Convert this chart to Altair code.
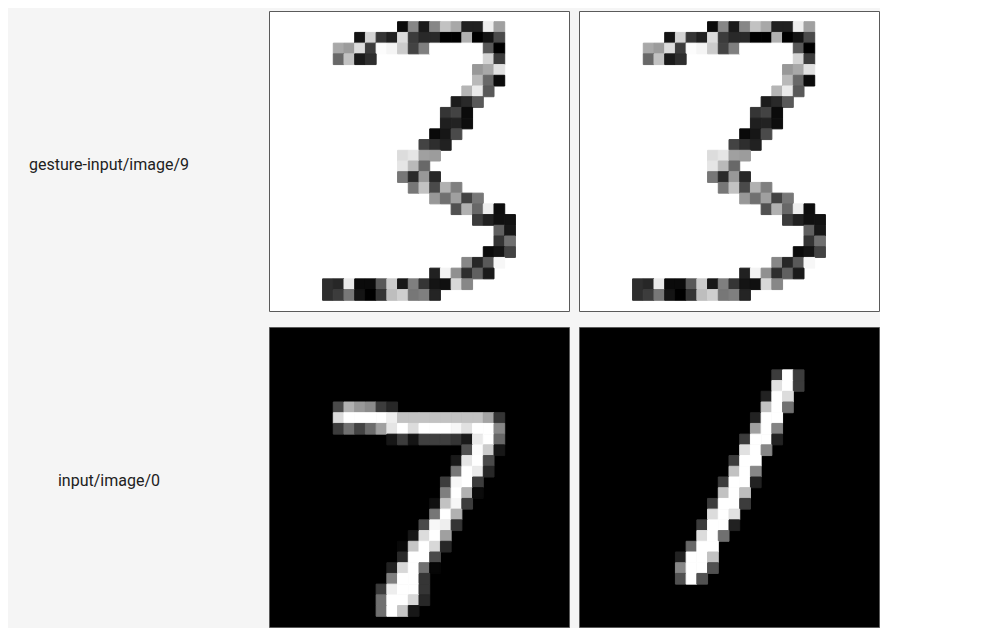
import altair as alt
import pandas as pd

# grey levels as shown on screen, one entry per image row: row -> (first column, values)
gesture_9 = {
    1: (12, [8, 144, 24, 144, 200, 176, 32, 32, 240, 168]),
    2: (8, [16, 216, 56, 32, 224, 64, 42, 42, 0, 0, 184, 0, 16, 80]),
    3: (6, [176, 164, 224, 64, 252, 246, 208, 72, 136, 255, 255, 255, 255, 255, 96, 0]),
    4: (6, [112, 200, 24, 48]),
    104: (20, [216, 64]),
    5: (19, [160, 176, 228]),
    6: (19, [192, 112, 8]),
    7: (18, [188, 236, 96]),
    8: (17, [26, 42, 96]),
    9: (16, [56, 72, 8]),
    10: (16, [30, 34, 10]),
    11: (15, [6, 18, 80]),
    12: (14, [72, 48, 32]),
    13: (12, [224, 232, 168, 164]),
    14: (12, [232, 192, 112]),
    15: (12, [128, 44, 160, 40]),
    16: (13, [128, 200, 80, 184, 136]),
    17: (15, [160, 120, 168, 72, 128]),
    18: (17, [88, 184, 112, 240, 10]),
    19: (19, [64, 32, 12, 14]),
    20: (21, [104, 20]),
    21: (21, [56, 120]),
    22: (20, [8, 16, 72]),
    23: (18, [144, 40, 96, 248]),
    24: (15, [32, 244, 152, 48, 104, 24]),
    25: (5, [48, 40, 236, 8, 8, 96, 208, 20, 136, 56, 16, 12, 220, 144]),
    26: (5, [48, 64, 128, 16, 0, 56, 196, 212, 128, 136, 36]),
}

input_7 = {
    7: (6, [80, 184, 160, 148, 64, 40]),
    8: (6, [224, 255, 255, 255, 255, 240, 200, 200, 200, 200, 200, 200, 200, 200, 172, 56]),
    9: (6, [64, 120, 72, 116, 168, 232, 255, 224, 255, 255, 255, 248, 228, 255, 255, 144]),
    10: (11, [18, 64, 16, 68, 68, 68, 56, 24, 236, 255, 112]),
    11: (18, [88, 252, 208, 20]),
    12: (17, [24, 232, 255, 80]),
    13: (17, [128, 255, 236, 40]),
    14: (16, [64, 248, 255, 64]),
    15: (16, [136, 255, 184, 8]),
    16: (15, [12, 200, 248, 64]),
    17: (15, [128, 255, 184]),
    18: (14, [80, 248, 240, 56]),
    19: (13, [20, 224, 255, 168]),
    20: (12, [6, 204, 255, 220, 40]),
    21: (12, [44, 255, 255, 80]),
    22: (11, [34, 220, 255, 120, 4]),
    23: (11, [136, 255, 255, 56]),
    24: (10, [64, 240, 255, 255, 56]),
    25: (10, [120, 255, 255, 220, 40]),
    26: (10, [120, 255, 204, 20]),
}

input_1 = {
    4: (18, [64, 255, 64]),
    5: (18, [228, 255, 64]),
    6: (17, [34, 255, 224]),
    7: (17, [200, 255, 120]),
    8: (16, [34, 255, 255]),
    9: (16, [168, 255, 140]),
    10: (15, [64, 255, 255, 34]),
    11: (15, [228, 255, 144]),
    12: (14, [64, 255, 255]),
    13: (14, [200, 255, 144]),
    14: (13, [64, 255, 255, 34]),
    15: (13, [200, 255, 196]),
    16: (12, [64, 255, 255, 64]),
    17: (12, [224, 255, 228]),
    18: (11, [64, 255, 255, 32]),
    19: (11, [224, 255, 120]),
    20: (10, [112, 255, 255]),
    21: (9, [34, 255, 255, 200]),
    22: (9, [144, 255, 255, 88]),
    23: (9, [88, 255, 88]),
}

labels = ['gesture-input/image/9', 'input/image/0']


def to_df(rows):
    recs = []
    for r, (c0, vals) in rows.items():
        r = r % 100
        for i, v in enumerate(vals):
            recs.append({'row': r, 'col': c0 + i, 'v': v})
    return pd.DataFrame(recs)


def panel(rows, bg):
    grey = alt.Scale(domain=[0, 255], range=['black', 'white'])
    return alt.Chart(to_df(rows)).mark_rect(strokeWidth=1).encode(
        x=alt.X('col:O', scale=alt.Scale(domain=list(range(28)), paddingInner=0, paddingOuter=0), axis=None),
        y=alt.Y('row:O', scale=alt.Scale(domain=list(range(28)), paddingInner=0, paddingOuter=0), axis=None),
        color=alt.Color('v:Q', scale=grey, legend=None),
        stroke=alt.Stroke('v:Q', scale=grey, legend=None),
    ).properties(width=300, height=300, view=alt.ViewBackground(fill=bg, stroke='#5a5a5a', strokeWidth=1))


def label(txt):
    return alt.Chart(pd.DataFrame({'t': [txt]})).mark_text(
        font='Roboto', fontSize=16, color='#212121', align='center', baseline='middle'
    ).encode(
        text='t:N', x=alt.value(101), y=alt.value(154)
    ).properties(width=252, height=300, view=alt.ViewBackground(stroke=None))


top = alt.hconcat(label(labels[0]), panel(gesture_9, 'white'), panel(gesture_9, 'white'), spacing=8)
bottom = alt.hconcat(label(labels[1]), panel(input_7, 'black'), panel(input_1, 'black'), spacing=8)

chart = alt.vconcat(top, bottom, spacing=14).properties(
    background='#f5f5f5', padding={'left': 0, 'top': 2, 'right': 0, 'bottom': 0}
)

chart.save("out.html", embed_options={"renderer": "svg", "actions": False})
